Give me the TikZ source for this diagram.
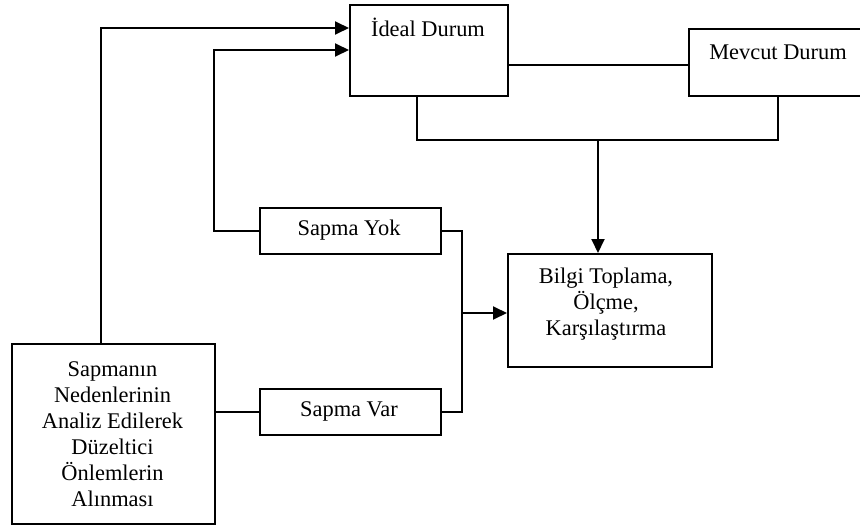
\documentclass[tikz,border=0pt]{standalone}
\usepackage{fontspec}
\setmainfont{Liberation Serif}
\usetikzlibrary{arrows.meta}
\begin{document}
\begin{tikzpicture}[x=1pt, y=-1pt, line width=1.9pt,
  box/.style={draw, inner sep=0pt, anchor=north west},
  lbl/.style={font=\fontsize{22.4}{26}\selectfont, align=center, inner sep=0pt},
  arr/.style={-{Triangle[length=14pt,width=13pt]}}]
  \useasboundingbox (0,0) rectangle (860,525);

  % boxes
  \node[box, minimum width=158pt, minimum height=91pt]  (ideal)  at (349,4)   {};
  \node[box, minimum width=175pt, minimum height=67pt]  (mevcut) at (688,28)  {};
  \node[box, minimum width=204pt, minimum height=113pt] (bilgi)  at (507,253) {};
  \node[box, minimum width=181pt, minimum height=46pt]  (yok)    at (259,207) {};
  \node[box, minimum width=181pt, minimum height=46pt]  (var)    at (259,388) {};
  \node[box, minimum width=203pt, minimum height=180pt] (big)    at (11,343)  {};

  % texts
  \node[lbl, anchor=base] (tideal)  at (428,36) {İdeal Durum};
  \node[lbl, anchor=base] (tmevcut) at (778,59) {Mevcut Durum};
  \node[lbl] (tbilgi) at (606,304) {Bilgi Toplama,\\Ölçme,\\Karşılaştırma};
  \node[lbl] (tyok) at (349,230) {Sapma Yok};
  \node[lbl] (tvar) at (349,411) {Sapma Var};
  \node[lbl] (tbig) at (112.5,434) {Sapmanın\\Nedenlerinin\\Analiz Edilerek\\Düzeltici\\Önlemlerin\\Alınması};

  % routing guides
  \coordinate (y28) at (0,28);
  \coordinate (y50) at (0,50);
  \coordinate (y65) at (0,65);
  \coordinate (y140) at (0,140);
  \coordinate (y313) at (0,313);
  \coordinate (x101) at (101,0);
  \coordinate (x214) at (214,0);
  \coordinate (x417) at (417,0);
  \coordinate (x462) at (462,0);
  \coordinate (x598) at (598,0);
  \coordinate (x778) at (778,0);

  % connectors
  \draw (ideal.east |- y65) -- (mevcut.west |- y65);
  \draw (ideal.south -| x417) -- (x417 |- y140) -- (x778 |- y140) -- (mevcut.south -| x778);
  \draw[arr] (x598 |- y140) -- (bilgi.north -| x598);
  \draw (yok.east) -| (x462 |- var.east) -- (var.east);
  \draw[arr] (x462 |- y313) -- (bilgi.west |- y313);
  \draw[arr] (yok.west) -| (x214 |- y50) -- (ideal.west |- y50);
  \draw (var.west) -- (big.east |- var.west);
  \draw[arr] (big.north -| x101) |- (ideal.west |- y28);
\end{tikzpicture}
\end{document}
